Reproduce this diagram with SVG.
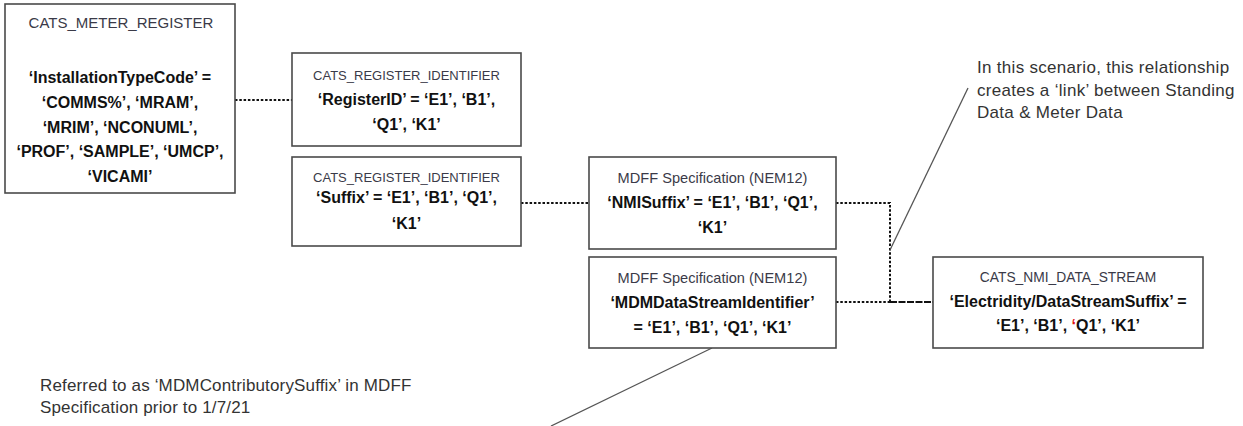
<svg xmlns="http://www.w3.org/2000/svg" width="1243" height="426" viewBox="0 0 1243 426">
<style>
  .box { fill: #ffffff; stroke: #4a4a4a; stroke-width: 1.6; }
  .ttl { font-family: "Liberation Sans", Arial, sans-serif; font-size: 13px; fill: #3a3a48; text-anchor: middle; }
  .bold { font-family: "Liberation Sans", Arial, sans-serif; font-size: 16px; font-weight: bold; fill: #111111; text-anchor: middle; }
  .note { font-family: "Liberation Sans", Arial, sans-serif; font-size: 17px; fill: #333333; }
  .dot { fill: none; stroke: #111111; stroke-width: 2; stroke-dasharray: 2.5 1.8; }
  .dash { fill: none; stroke: #111111; stroke-width: 2; stroke-dasharray: 7 1.5; }
  .lead { fill: none; stroke: #555555; stroke-width: 1.3; }
</style>

<g id="connectors">
  <path class="dot" d="M235,100 H292"/>
  <path class="dot" d="M521,203 H589"/>
  <path class="dot" d="M836,203 H890 V302"/>
  <path class="dot" d="M836,302 H890"/>
  <path class="dash" d="M890,302 H933"/>
  <path class="lead" d="M890,250 L968,88"/>
  <path class="lead" d="M712,348 L551,426"/>
</g>

<g id="cats_meter_register">
  <rect class="box" x="5" y="4" width="230" height="189"/>
  <text class="ttl" x="121" y="28" style="font-size:15px">CATS_METER_REGISTER</text>
  <text class="bold" x="120" y="83">‘InstallationTypeCode’ =</text>
  <text class="bold" x="120" y="108">‘COMMS%’, ‘MRAM’,</text>
  <text class="bold" x="120" y="133">‘MRIM’, ‘NCONUML’,</text>
  <text class="bold" x="120" y="157">‘PROF’, ‘SAMPLE’, ‘UMCP’,</text>
  <text class="bold" x="120" y="182">‘VICAMI’</text>
</g>

<g id="cats_register_identifier_1">
  <rect class="box" x="292" y="53" width="229" height="93"/>
  <text class="ttl" x="406.5" y="80">CATS_REGISTER_IDENTIFIER</text>
  <text class="bold" x="406.5" y="105">‘RegisterID’ = ‘E1’, ‘B1’,</text>
  <text class="bold" x="406.5" y="130">‘Q1’, ‘K1’</text>
</g>

<g id="cats_register_identifier_2">
  <rect class="box" x="292" y="157" width="229" height="89"/>
  <text class="ttl" x="406.5" y="182">CATS_REGISTER_IDENTIFIER</text>
  <text class="bold" x="406.5" y="203">‘Suffix’ = ‘E1’, ‘B1’, ‘Q1’,</text>
  <text class="bold" x="406.5" y="229">‘K1’</text>
</g>

<g id="mdff_nmisuffix">
  <rect class="box" x="589" y="157" width="247" height="92"/>
  <text class="ttl" x="712.5" y="183" style="font-size:14.6px">MDFF Specification (NEM12)</text>
  <text class="bold" x="712.5" y="208">‘NMISuffix’ = ‘E1’, ‘B1’, ‘Q1’,</text>
  <text class="bold" x="712.5" y="233">‘K1’</text>
</g>

<g id="mdff_mdmdatastream">
  <rect class="box" x="589" y="257" width="247" height="91"/>
  <text class="ttl" x="712.5" y="283" style="font-size:14.6px">MDFF Specification (NEM12)</text>
  <text class="bold" x="712.5" y="308">‘MDMDataStreamIdentifier’</text>
  <text class="bold" x="712.5" y="333">= ‘E1’, ‘B1’, ‘Q1’, ‘K1’</text>
</g>

<g id="cats_nmi_data_stream">
  <rect class="box" x="933" y="257" width="270" height="91"/>
  <text class="ttl" x="1068" y="282" style="font-size:13.8px">CATS_NMI_DATA_STREAM</text>
  <text class="bold" x="1068" y="307">‘Electridity/DataStreamSuffix’ =</text>
  <text class="bold" x="1068" y="331">‘E1’, ‘B1’, <tspan fill="#e01010">‘</tspan>Q1’, ‘K1’</text>
</g>

<g id="note_link">
  <text class="note" x="977" y="73" letter-spacing="0.3">In this scenario,  this relationship</text>
  <text class="note" x="977" y="96" letter-spacing="0.3">creates a ‘link’ between Standing</text>
  <text class="note" x="977" y="118" letter-spacing="0.3">Data &amp; Meter Data</text>
</g>

<g id="note_suffix">
  <text class="note" x="40" y="391" letter-spacing="0.15">Referred to as ‘MDMContributorySuffix’ in MDFF</text>
  <text class="note" x="40" y="413" letter-spacing="0.15">Specification prior to 1/7/21</text>
</g>
</svg>
